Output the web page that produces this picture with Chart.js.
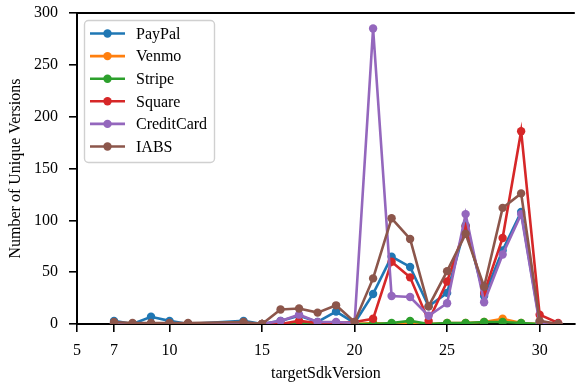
<!DOCTYPE html>
<html lang="en">
<head>
  <meta charset="UTF-8">
  <title>targetSdkVersion</title>
  <style>
    body { margin: 0; background: #fff; }
    canvas { display: block; }
  </style>
  <script src="https://cdn.jsdelivr.net/npm/chart.js"></script>
</head>
<body>
  <canvas id="myChart" width="579" height="386"></canvas>

  <script>
    // target SDK versions present in the data
    const sdkVersions = [7, 8, 9, 10, 11, 14, 15, 16, 17, 18, 19, 20, 21, 22, 23, 24, 25, 26, 27, 28, 29, 30, 31];

    const paypal     = [3, 0, 7, 3, 0, 3, 0, 3, 8, 2, 12, 1, 29, 65, 55, 17, 30, 95, 27, 71, 108, 2, 0];
    const venmo      = [0, 0, 0, 0, 0, 0, 0, 0, 0, 0, 0, 0, 1, 0, 1, 0, 1, 1, 2, 5, 1, 0, 0];
    const stripe     = [0, 0, 0, 0, 0, 0, 0, 0, 1, 0, 0, 0, 0, 1, 3, 0, 1, 1, 2, 2, 1, 0, 0];
    const square     = [0, 0, 0, 0, 0, 0, 0, 0, 3, 1, 1, 2, 5, 60, 45, 3, 41, 94, 30, 83, 186, 9, 1];
    const creditCard = [1, 0, 0, 0, 0, 0, 0, 3, 9, 2, 2, 1, 285, 27, 26, 8, 20, 106, 21, 67, 106, 0, 0];
    const iabs       = [2, 1, 1, 1, 1, 2, 0, 14, 15, 11, 18, 2, 44, 102, 82, 17, 51, 87, 36, 112, 126, 3, 0];

    const seriesNames = ['PayPal', 'Venmo', 'Stripe', 'Square', 'CreditCard', 'IABS'];
    const seriesData = [paypal, venmo, stripe, square, creditCard, iabs];
    const seriesColors = ['#1f77b4', '#ff7f0e', '#2ca02c', '#d62728', '#9467bd', '#8c564b'];

    const xTicks = [5, 7, 10, 15, 20, 25, 30];
    const yTicks = [0, 50, 100, 150, 200, 250, 300];

    const FONT = '"Liberation Serif", "DejaVu Serif", serif';
    const LINE_W = 2.6;
    const DOT_R = 4.2;

    const datasets = seriesNames.map((name, i) => ({
      label: name,
      data: sdkVersions.map((x, j) => ({ x: x, y: seriesData[i][j] })),
      borderColor: seriesColors[i],
      backgroundColor: seriesColors[i],
      borderWidth: LINE_W,
      pointRadius: DOT_R,
      pointBorderWidth: 0,
      tension: 0,
      order: seriesNames.length - i  // last series on top, like matplotlib
    }));

    // matplotlib style legend inside the axes + top spine
    const boxLegend = {
      id: 'boxLegend',
      afterDatasetsDraw(chart) {
        const ctx = chart.ctx;
        const area = chart.chartArea;
        ctx.save();
        ctx.strokeStyle = '#000';
        ctx.lineWidth = 2;
        ctx.beginPath();
        ctx.moveTo(area.left, area.top);
        ctx.lineTo(area.right, area.top);
        ctx.stroke();

        ctx.fillStyle = 'rgba(255,255,255,0.8)';
        ctx.strokeStyle = '#d0d0d0';
        ctx.lineWidth = 1.4;
        ctx.beginPath();
        ctx.roundRect(84.5, 20.5, 130, 142, 4);
        ctx.fill();
        ctx.stroke();

        ctx.font = '16px ' + FONT;
        ctx.textBaseline = 'middle';
        seriesNames.forEach((name, i) => {
          const y = 33.5 + i * 22.6;
          ctx.strokeStyle = seriesColors[i];
          ctx.lineWidth = LINE_W;
          ctx.beginPath();
          ctx.moveTo(90, y);
          ctx.lineTo(125, y);
          ctx.stroke();
          ctx.fillStyle = seriesColors[i];
          ctx.beginPath();
          ctx.arc(107.5, y, DOT_R, 0, Math.PI * 2);
          ctx.fill();
          ctx.fillStyle = '#000';
          ctx.fillText(name, 136, y + 1);
        });
        ctx.restore();
      }
    };

    new Chart(document.getElementById('myChart'), {
      type: 'line',
      data: { datasets: datasets },
      plugins: [boxLegend],
      options: {
        responsive: false,
        animation: false,
        layout: { padding: { top: 13, right: 0, left: 0, bottom: 0 } },
        plugins: { legend: { display: false }, tooltip: { enabled: false } },
        scales: {
          x: {
            type: 'linear',
            min: 5,
            max: 31.9,
            afterBuildTicks: s => { s.ticks = xTicks.map(v => ({ value: v })); },
            afterFit: s => { s.height = 62; s.paddingLeft = 0; s.paddingRight = 0; },
            ticks: { color: '#000', font: { family: FONT, size: 16 }, padding: 9, maxRotation: 0, autoSkip: false },
            grid: { drawOnChartArea: false, tickLength: 8, color: '#000', lineWidth: 1.6 },
            border: { color: '#000', width: 2 },
            title: { display: true, text: 'targetSdkVersion', color: '#000', font: { family: FONT, size: 16 }, padding: { top: 0, bottom: 2.4 } }
          },
          y: {
            min: 0,
            max: 300,
            afterBuildTicks: s => { s.ticks = yTicks.map(v => ({ value: v })); },
            afterFit: s => { s.width = 77; s.paddingTop = 0; s.paddingBottom = 0; },
            ticks: { color: '#000', font: { family: FONT, size: 16 }, padding: 11 },
            grid: { drawOnChartArea: false, tickLength: 8, color: '#000', lineWidth: 1.6 },
            border: { color: '#000', width: 2 },
            title: { display: true, text: 'Number of Unique Versions', color: '#000', font: { family: FONT, size: 16 }, padding: { top: 6.4, bottom: 0 } }
          }
        }
      }
    });
  </script>
</body>
</html>
